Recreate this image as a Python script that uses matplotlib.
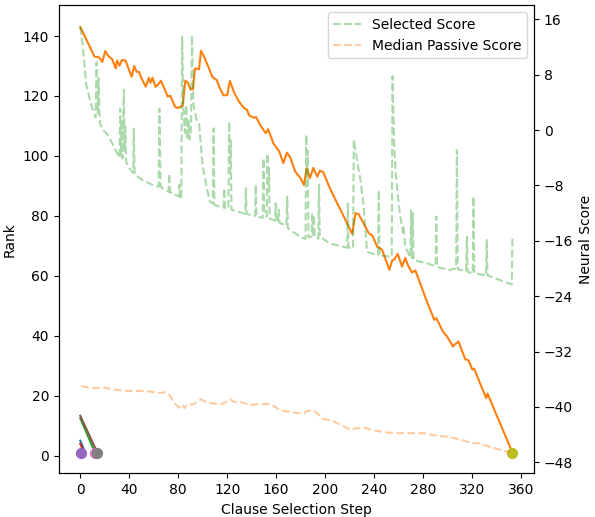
import matplotlib
matplotlib.use("Agg")
import matplotlib.pyplot as plt

# ---- Rank trajectory of the proof clause (main orange line) ----
rank_steps = [0, 11.7, 15, 18, 20.4, 23, 26, 29, 30, 32, 34, 37, 42, 44, 46, 48, 50,
              53.5, 56, 57.3, 59, 61.4, 63, 66, 71.4, 73.5, 77.4, 79.5, 83.6, 85.8, 88,
              90, 92, 93.7, 97, 98.6, 101.2, 108, 111.5, 114, 117, 120, 122.2, 125.7,
              129.8, 134, 136, 138, 142, 143.5, 147.4, 151.5, 153.4, 158, 162.4, 165.9,
              168.8, 171.5, 175.5, 180, 182.7, 184.9, 187.6, 190.3, 193.6, 195.7, 198.4,
              203.9, 208.5, 213.9, 218.5, 222.1, 224.8, 227.5, 231.6, 235.7, 238.4,
              242.4, 246.5, 252.5, 254.7, 256.6, 259.3, 262.8, 265.5, 267.4, 271, 273.7,
              282.6, 289.1, 290.8, 296.2, 299.5, 304.4, 305.7, 308.9, 314.4, 317.1,
              320.3, 321.7, 331.5, 332.6, 353]
rank_vals = [143, 133.1, 133, 131.4, 135, 133.3, 132.3, 129.2, 131.8, 130.1, 132, 131.8,
             126.4, 130, 128.1, 128, 125.9, 123.1, 126.1, 124.4, 126.1, 123.1, 123.6,
             125.1, 119.8, 120.1, 116.4, 116, 116.7, 125.1, 124.4, 122.2, 122.2, 129.2,
             128.9, 135.1, 133.1, 126.3, 125.3, 122.6, 120.2, 120.3, 125, 121.1, 118,
             115.9, 115.5, 113.5, 112.7, 113, 110, 107.6, 108.9, 104, 101.6, 97.6, 101.1,
             99.5, 94.8, 92.5, 90.3, 95.9, 92.6, 96, 93.1, 95.1, 94.6, 89.2, 85.3, 80.9,
             77, 74, 80.9, 80.5, 77.3, 74.2, 73.5, 69.8, 68.7, 62, 65.1, 65.5, 67.3, 63.1,
             66, 63.7, 61.1, 61.8, 52, 45.3, 45.9, 41.4, 39.8, 36.4, 37, 38.1, 32.2, 31.8,
             28.7, 29, 19.2, 20.7, 1]

# ---- Short rank trajectories of other clauses ----
blue_steps, blue_vals = [0, 4], [5, 1]
red_steps, red_vals = [0, 3], [4, 1]
green_short_steps, green_short_vals = [0, 12], [12.5, 1]
brown_steps, brown_vals = [0, 14], [13.3, 1]

# ---- Selection points (rank 1) ----
dot_steps = [1, 12, 14, 353]
dot_ranks = [1, 1, 1, 1]
dot_colors = ["#9467bd", "#e377c2", "#7f7f7f", "#bcbd22"]

# ---- Selected Score (neural score axis) ----
sel_steps = [0, 2.2, 4.9, 9, 12.5, 13.3, 14.3, 15, 16, 18.5, 22.6, 28, 32, 32.6, 33.2,
             33.8, 34.4, 35.6, 36.2, 36.8, 37.4, 39, 43.2, 43.7, 44.4, 50.5, 58.6, 64,
             64.6, 65.6, 66.8, 72.1, 72.7, 73.4, 78.3, 80.5, 81, 81.6, 82.5, 83.2, 84.2,
             85.5, 86.5, 87.5, 88.5, 89.5, 90.5, 91.2, 92.5, 95, 97.2, 98, 99.9, 104, 106,
             108.3, 108.9, 109.6, 114, 117, 117.6, 118.2, 121, 121.6, 122.3, 122.9, 123.5,
             128.4, 134.7, 135.2, 135.8, 139.3, 142.8, 143.3, 143.9, 149, 149.6, 150.2,
             152.3, 152.9, 153.5, 154.1, 154.7, 159, 159.6, 160.2, 161.5, 162.1, 162.7,
             168.4, 169, 169.6, 172, 181.4, 184, 184.6, 185.2, 185.8, 186.4, 189, 189.5,
             190.1, 190.8, 191.4, 194.4, 195, 195.6, 204, 218, 218.5, 219.1, 222.8, 223.4,
             226, 228.8, 231.5, 234.3, 243.2, 243.8, 244.4, 254.4, 255, 256.5, 258, 261,
             263.5, 264, 265.5, 269.6, 270.2, 270.8, 271.5, 272.3, 284, 290.2, 290.8,
             291.4, 301.5, 307, 307.6, 308.3, 315.2, 315.8, 316.4, 320.6, 321.2, 321.8,
             331.4, 332, 332.6, 343, 352.4, 353]
sel_vals = [14.9, 11.8, 6.5, 3.6, 1.8, 9.8, 2.4, 7.5, 1.0, 0, -0.7, -2.6, -4.0, 3.1, -3.6,
            1.5, -4.1, 5.8, -3.0, 0.5, -4.5, -5.3, -6.2, 0.2, -6.4, -7.2, -7.9, -8.2, 3.1,
            -8.0, -8.4, -8.9, -6.3, -9.0, -9.4, -9.6, -7.9, -9.9, -10.0, 13.5, 3.3, -0.4,
            3.6, -1.4, 1.4, -1.4, 0.5, 13.7, 3.6, 1.5, 0.7, -1.2, -5.1, -8.9, -10.4, -10.6,
            0.25, -10.8, -11.1, -11.2, -8.4, -11.3, -11.3, 1.2, -6, -1.5, -11.5, -11.8,
            -12.1, -8.4, -12.1, -12.3, -12.4, -7.9, -12.5, -12.7, -4.1, -11.5, -12.5, -3.4,
            -9, -5.5, -12.8, -13.1, -10.6, -13.2, -13.3, -11.5, -13.4, -13.8, -9.6, -14.2,
            -14.5, -15.6, -15.7, -0.7, -8, -3, -15.5, -15.4, -12, -15.4, -12.3, -15.5,
            -15.7, -7.9, -15.4, -16.4, -17.0, -10.6, -17.0, -17.1, -1.4, -4.3, -7.2, -11.1,
            -17.6, -18.1, -8.7, -18.1, -18.3, 7.8, -2.4, -7.2, -12, -14.8, -14.0, -16.9,
            -18.4, -11.6, -18.5, -12, -18.8, -19.3, -19.7, -12.5, -19.8, -20.2, -20.0, -2.9,
            -20.1, -20.4, -15.4, -20.5, -20.7, -9.6, -20.7, -21.0, -15.9, -21.0, -21.7,
            -22.3, -15.2]

# ---- Median Passive Score (neural score axis) ----
med_steps = [0.8, 9, 19.6, 27.8, 38.8, 49.7, 57.8, 63.8, 69.3, 72.9, 76.8, 80.9, 83.6,
             85, 87.7, 91.8, 98.6, 102.7, 106.7, 114.9, 118.2, 122.4, 125.7, 129.8, 133.9,
             139.3, 147.4, 154.2, 158.3, 162.4, 169.2, 177.4, 182.9, 185.4, 190.3, 193.6,
             197.7, 205.9, 212.7, 220.7, 224.8, 231.6, 239.8, 250.7, 256.2, 264.3, 273.8,
             281.8, 288.6, 299.5, 310.3, 318.5, 326.4, 334.6, 343.3, 351.2]
med_vals = [-37.0, -37.3, -37.2, -37.5, -37.7, -37.7, -37.8, -38.0, -37.9, -38.3, -39.5,
            -40.1, -39.7, -40.2, -39.6, -39.7, -38.9, -39.3, -39.5, -39.6, -39.4, -38.9,
            -39.3, -39.2, -39.5, -39.7, -39.6, -39.6, -39.9, -40.4, -40.7, -40.9, -40.9,
            -40.6, -40.5, -40.9, -41.7, -42.0, -42.6, -43.3, -43.1, -43.0, -43.4, -43.7,
            -43.8, -43.8, -43.8, -43.8, -44.1, -44.3, -44.7, -45.2, -45.3, -45.8, -46.2,
            -46.6]

fig = plt.figure(figsize=(5.95, 5.17), dpi=100)
ax1 = fig.add_axes([0.0987, 0.0845, 0.7988, 0.9049])

ax1.plot(blue_steps, blue_vals, color="#1f77b4")
ax1.plot(rank_steps, rank_vals, color="#ff7f0e")
ax1.plot(green_short_steps, green_short_vals, color="#2ca02c")
ax1.plot(red_steps, red_vals, color="#d62728")
ax1.plot(brown_steps, brown_vals, color="#8c564b")
for s, r, c in zip(dot_steps, dot_ranks, dot_colors):
    ax1.scatter([s], [r], color=c, s=50, zorder=3)

ax1.set_xlim(-17.6, 370.6)
ax1.set_ylim(-5.9, 150.2)
ax1.set_xticks(range(0, 361, 40))
ax1.set_yticks(range(0, 141, 20))
ax1.set_xlabel("Clause Selection Step")
ax1.set_ylabel("Rank")

ax2 = ax1.twinx()
ax2.plot(sel_steps, sel_vals, "--", color="#2ca02c", alpha=0.4, label="Selected Score")
ax2.plot(med_steps, med_vals, "--", color="#ff7f0e", alpha=0.4, label="Median Passive Score")
ax2.set_ylim(-49.6, 18.0)
ax2.set_yticks(range(-48, 17, 8))
ax2.set_ylabel("Neural Score")
ax2.legend(loc="upper right")

fig.savefig("out.png", dpi=100)
